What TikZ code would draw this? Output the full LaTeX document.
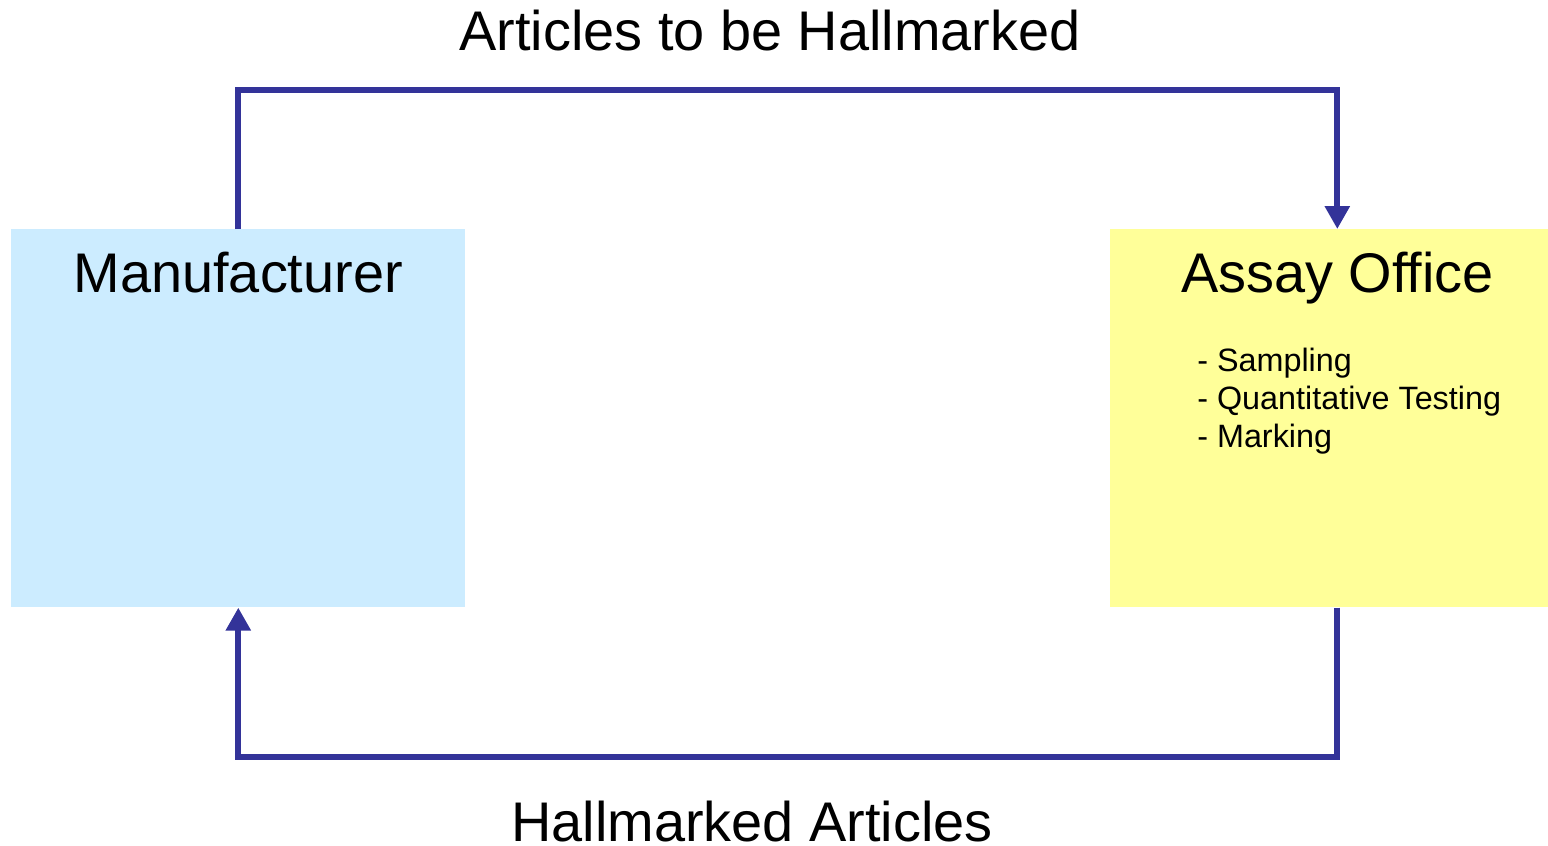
\documentclass[tikz,border=0pt]{standalone}
\usepackage{fontspec}
\setmainfont{Liberation Sans}
\usetikzlibrary{arrows.meta}
\definecolor{flowblue}{RGB}{51,51,153}
\definecolor{mfrblue}{RGB}{204,236,255}
\definecolor{assayyellow}{RGB}{255,255,153}

\begin{document}
\begin{tikzpicture}[x=0.02cm, y=-0.02cm,
	box/.style={rectangle, draw=none, minimum width=9.08cm, minimum height=7.56cm, inner sep=0},
	big/.style={inner sep=0, anchor=base, font=\fontsize{31.8}{38}\selectfont},
	item/.style={inner sep=0, anchor=base west, font=\fontsize{18.4}{21.5}\selectfont},
	flow/.style={draw=flowblue, line width=3.4pt, -{Triangle[length=0.46cm, width=0.48cm]}}]
		%%%%% START %%%%%
		\useasboundingbox (0, 0) rectangle (1548, 845);
		
		\node[box, fill=mfrblue, anchor=north west] (mfr) at (11, 229) {};
		\node[box, fill=assayyellow, anchor=north west] (assay) at (1110, 229) {};
		
		\node[big] (mfrtitle) at (mfr.north |- 0, 292) {Manufacturer};
		\node[big] (assaytitle) at (assay.north |- 0, 292) {Assay Office};
		
		\node[item] (step1) at (1197, 371) {- Sampling};
		\node[item] (step2) at (1197, 409) {- Quantitative Testing};
		\node[item] (step3) at (1197, 447) {- Marking};
		
		\coordinate (top) at (770, 90);
		\coordinate (bot) at (752, 757);
		\draw[flow] (mfr.north) |- (top) -| (assay.north);
		\draw[flow] (assay.south) |- (bot) -| (mfr.south);
		
		\node[big] (sendlabel) at (770, 51) {Articles to be Hallmarked};
		\node[big] (returnlabel) at (752, 841) {Hallmarked Articles};
		
		%%%%% END %%%%%
\end{tikzpicture}
\end{document}
